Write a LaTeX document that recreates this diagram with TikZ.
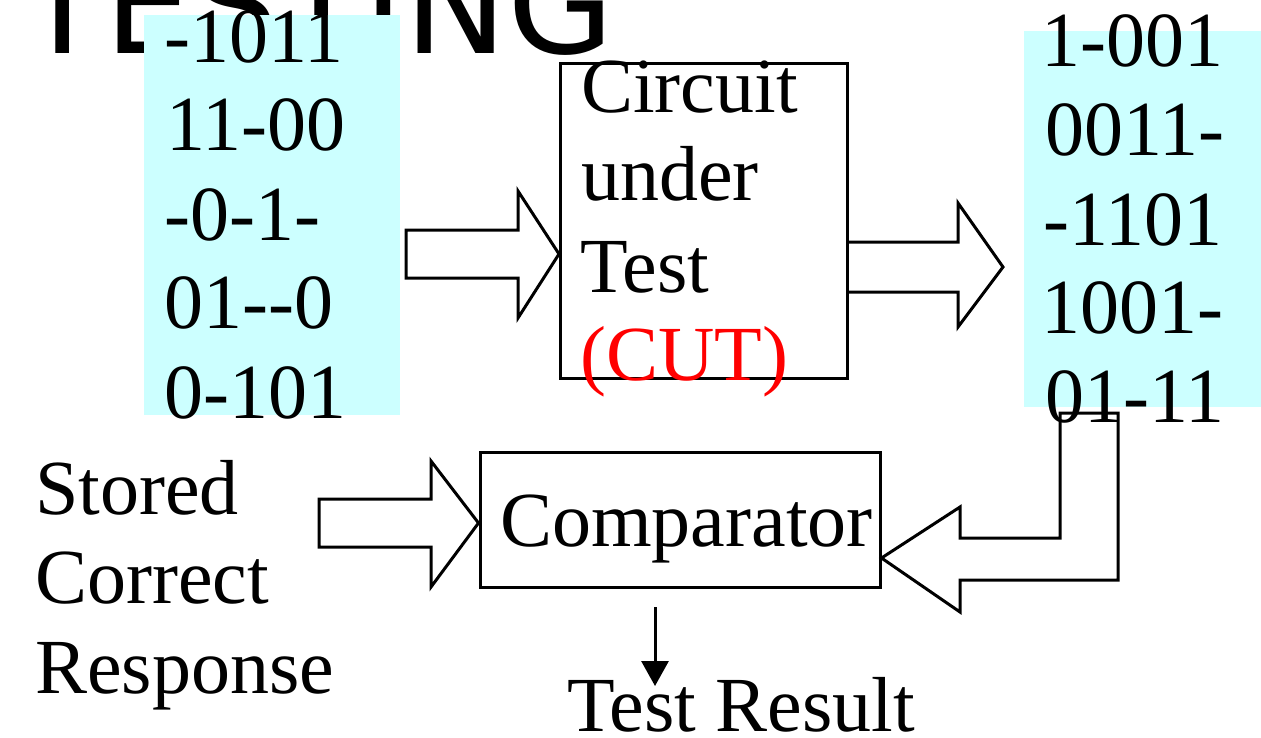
\documentclass[tikz,border=0pt]{standalone}
\usepackage{fontspec}
\setmainfont{Liberation Serif}
\newfontfamily\titlefont{DejaVu Sans}
\usetikzlibrary{arrows.meta}
\definecolor{patterncyan}{HTML}{CCFFFF}
\definecolor{cutred}{HTML}{FF0000}

\begin{document}
\begin{tikzpicture}[x=1pt, y=-1pt,
  txt/.style={anchor=base west, inner sep=0pt, font=\fontsize{78}{89}\selectfont},
  box/.style={draw, line width=3pt, inner sep=0pt},
  fatarrow/.style={draw, line width=3pt, line join=miter}]
\clip (0,0) rectangle (1261,737);
% title, cut by the top of the page
\node[anchor=base west, inner sep=0pt, font=\titlefont\fontsize{138}{160}\selectfont] (title) at (20,53) {TESTING};

% test patterns
\fill[patterncyan] (144,15) rectangle (400,415);
\node[txt] (in1) at (164,62) {-1011};
\node[txt] (in2) at (166,150) {11-00};
\node[txt] (in3) at (164,240) {-0-1-};
\node[txt] (in4) at (164,328) {01-{}-0};
\node[txt] (in5) at (164,418) {0-101};

% responses
\fill[patterncyan] (1024,31) rectangle (1261,407);
\node[txt] (out1) at (1041,66) {1-001};
\node[txt] (out2) at (1045,155) {0011-};
\node[txt] (out3) at (1043,245) {-1101};
\node[txt] (out4) at (1041,333) {1001-};
\node[txt] (out5) at (1045,422) {01-11};

% circuit under test
\node[box, minimum width=287pt, minimum height=315pt] (cut) at (704,220.5) {};
\node[txt] (cut1) at (581,112) {Circuit};
\node[txt] (cut2) at (581,200) {under};
\node[txt] (cut3) at (580,292) {Test};
\node[txt, text=cutred] (cut4) at (580,380) {(CUT)};

% comparator
\node[box, minimum width=400pt, minimum height=135pt] (comp) at (680,519.5) {};
\node[txt] (comptxt) at (500,546) {Comparator};

\node[txt] (stored1) at (35,514) {Stored};
\node[txt] (stored2) at (35,603) {Correct};
\node[txt] (stored3) at (35,693) {Response};

\node[txt] (result) at (567,731) {Test Result};

% block arrows
\draw[fatarrow] (406,230) -- (518,230) -- (518,191) -- (cut.west |- 0,254) -- (518,318) -- (518,278) -- (406,278) -- cycle;
\draw[fatarrow] (cut.east |- 0,242) -- (958,242) -- (958,203) -- (1003,267) -- (958,327) -- (958,292) -- (cut.east |- 0,292);
\draw[fatarrow] (319,499) -- (431,499) -- (431,461) -- (comp.west |- 0,523) -- (431,587) -- (431,547) -- (319,547) -- cycle;
\draw[fatarrow] (1060,413) -- (1060,538) -- (960,538) -- (960,507) -- (comp.east |- 0,558) -- (960,612) -- (960,580) -- (1118,580) -- (1118,413) -- cycle;

\coordinate (resstart) at (655,607);
\coordinate (resend) at (655,686);
\draw[line width=3pt, -{Triangle[length=25pt, width=27pt]}] (resstart) -- (resend);
\end{tikzpicture}
\end{document}
